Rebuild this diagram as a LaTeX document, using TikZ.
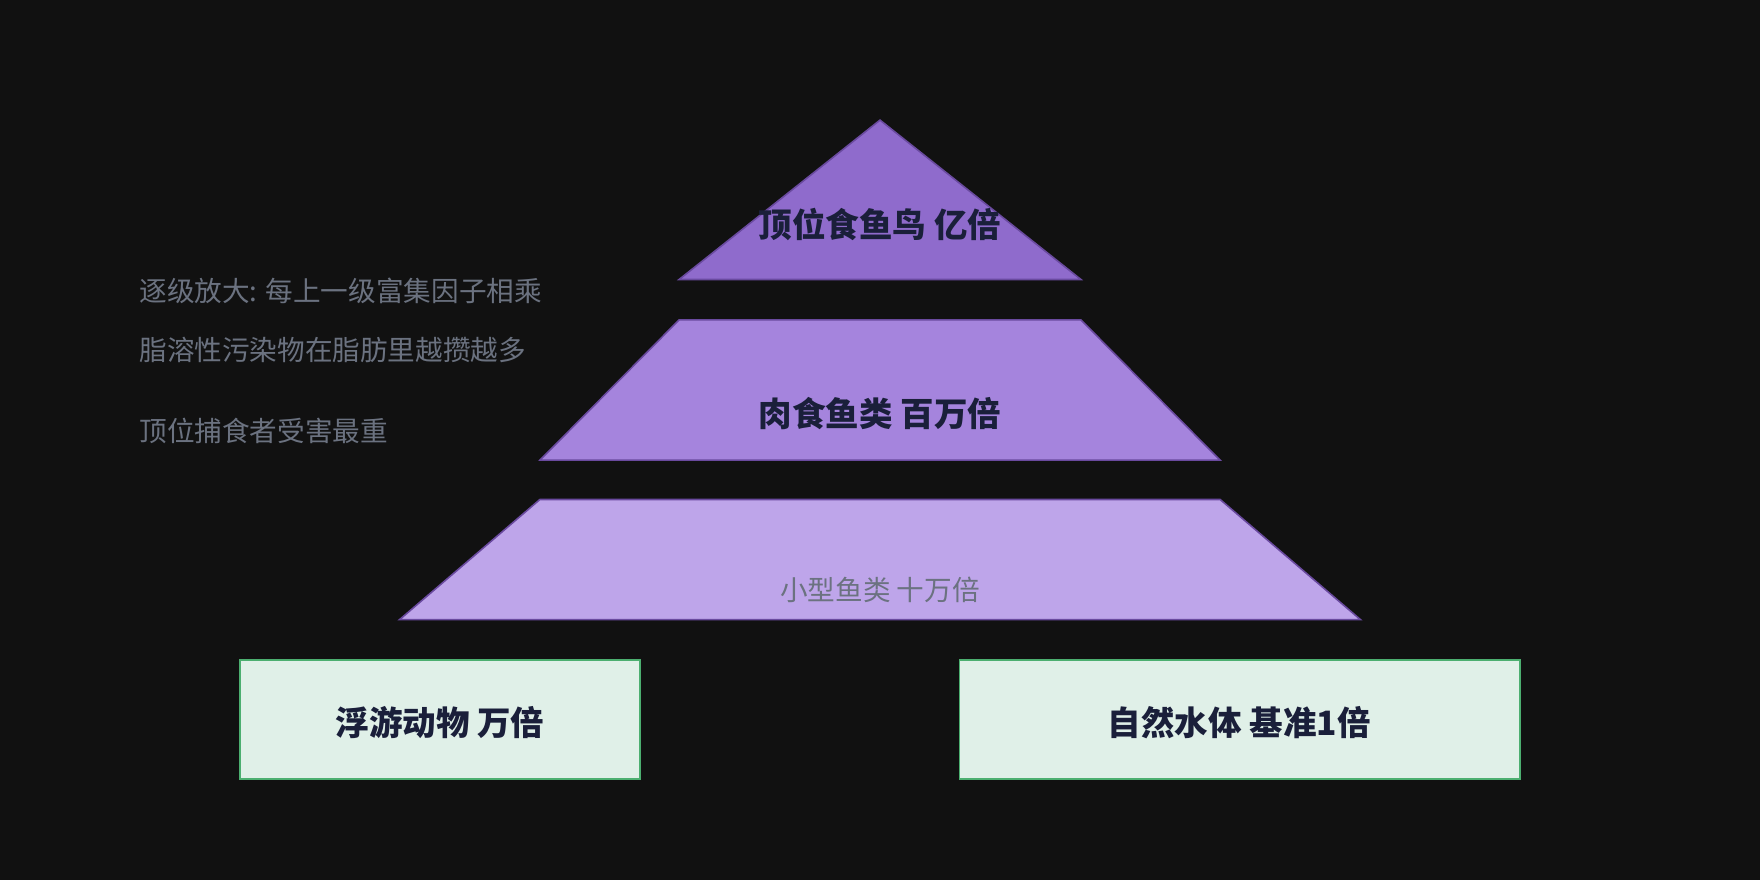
\documentclass[tikz,border=0pt]{standalone}
\usepackage{fontspec}
\setmainfont{Noto Sans CJK SC}
\definecolor{bgdark}{HTML}{111111}
\definecolor{tierA}{HTML}{8F6BCC}
\definecolor{tierB}{HTML}{A584DD}
\definecolor{tierC}{HTML}{BEA5EA}
\definecolor{tierline}{HTML}{6A4A9F}
\definecolor{boxfill}{HTML}{E0F0E8}
\definecolor{boxline}{HTML}{4CAF70}
\definecolor{labeldark}{HTML}{1A1F3A}
\definecolor{notegray}{HTML}{6B7280}
\begin{document}
\begin{tikzpicture}[x=0.02cm, y=-0.02cm,
    tier/.style={draw=tierline, line width=0.8pt},
    base/.style={draw=boxline, fill=boxfill, line width=0.8pt},
    big/.style={font=\fontsize{17}{20}\selectfont\bfseries, text=labeldark},
    note/.style={font=\fontsize{14}{17}\selectfont, text=notegray, anchor=west}]
    \fill[bgdark] (0,0) rectangle (1568,784);
    \useasboundingbox (0,0) rectangle (1568,784);

    % pyramid tiers
    \draw[tier, fill=tierA] (784,107) -- (963,249) -- (605,249) -- cycle;
    \draw[tier, fill=tierB] (605,285) -- (963,285) -- (1087,410) -- (481,410) -- cycle;
    \draw[tier, fill=tierC] (481,445) -- (1087,445) -- (1212,552) -- (356,552) -- cycle;

    \node[big] (bird) at (784,200) {顶位食鱼鸟 亿倍};
    \node[big] (predfish) at (784,368) {肉食鱼类 百万倍};
    \node[font=\fontsize{14}{17}\selectfont, text=notegray] (smallfish) at (784,526) {小型鱼类 十万倍};

    % base boxes
    \draw[base] (214,588) rectangle (570,694);
    \draw[base] (855,588) rectangle (1354,694);
    \node[big] (plankton) at (392,644) {浮游动物 万倍};
    \node[big] (water) at (1104,644) {自然水体 基准1倍};

    % side notes
    \node[note] (step) at (118,259) {逐级放大: 每上一级富集因子相乘};
    \node[note] (fat) at (118,312) {脂溶性污染物在脂肪里越攒越多};
    \node[note] (top) at (118,384) {顶位捕食者受害最重};
\end{tikzpicture}
\end{document}
